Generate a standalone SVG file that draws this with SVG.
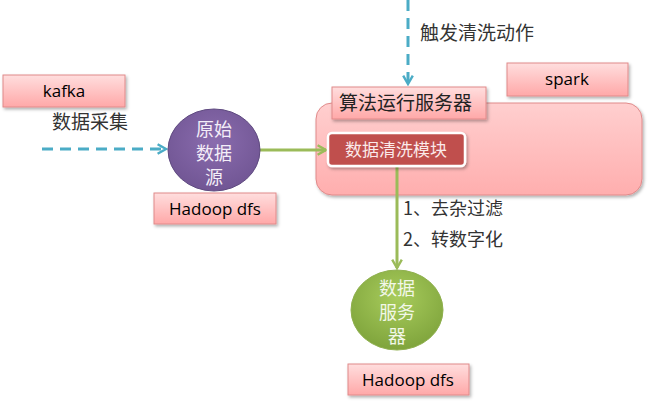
<svg xmlns="http://www.w3.org/2000/svg" width="658" height="401" viewBox="0 0 658 401">
<defs>
<linearGradient id="pink" x1="0" y1="0" x2="0" y2="1"><stop offset="0" stop-color="#ffdede"/><stop offset="1" stop-color="#ffa8a8"/></linearGradient>
<linearGradient id="bigpink" x1="0" y1="0" x2="0" y2="1"><stop offset="0" stop-color="#ffcfcf"/><stop offset="1" stop-color="#ffaeae"/></linearGradient>
<radialGradient id="green" cx="0.5" cy="0.35" r="0.65"><stop offset="0" stop-color="#a8cc5c"/><stop offset="1" stop-color="#7fa43c"/></radialGradient>
<radialGradient id="purple" cx="0.5" cy="0.4" r="0.65"><stop offset="0" stop-color="#8a6cae"/><stop offset="1" stop-color="#6f5492"/></radialGradient>
<filter id="sh" x="-10%" y="-10%" width="130%" height="140%"><feDropShadow dx="1.5" dy="2" stdDeviation="1.5" flood-color="#000" flood-opacity="0.3"/></filter>
<marker id="ab" viewBox="0 0 10 10" refX="8" refY="5" markerWidth="4" markerHeight="4" orient="auto" markerUnits="strokeWidth"><path d="M1,1 L8,5 L1,9" fill="none" stroke="#4bacc6" stroke-width="2"/></marker>
<marker id="ag" viewBox="0 0 10 10" refX="8" refY="5" markerWidth="4" markerHeight="4" orient="auto" markerUnits="strokeWidth"><path d="M1,1 L8,5 L1,9" fill="none" stroke="#9bbb59" stroke-width="2"/></marker>
</defs>
<style>
.box{fill:url(#pink);stroke:#e08a8a;stroke-width:1;filter:url(#sh)}
.lbl{font-family:"Open Sans","Liberation Sans",sans-serif;font-size:17px;fill:#000;text-anchor:middle}
.cn{font-family:"Noto Sans CJK SC",sans-serif;font-size:18px;fill:#333}
.wt{font-family:"Noto Sans CJK SC",sans-serif;font-size:18px;fill:#f4eef8;text-anchor:middle}
.blue{stroke:#4bacc6;stroke-width:3;fill:none;stroke-dasharray:11 7}
.grn{stroke:#9bbb59;stroke-width:3;fill:none}
</style>
<g id="spark-container">
<rect x="316" y="103" width="326" height="92" rx="16" fill="url(#bigpink)" stroke="#e08a8a" stroke-width="1" filter="url(#sh)"/>
</g>
<g id="connectors">
<path class="blue" d="M42,149 H166" marker-end="url(#ab)"/>
<path class="blue" d="M408,0 V84" marker-end="url(#ab)"/>
<path class="grn" d="M260,150 H326" marker-end="url(#ag)"/>
<path class="grn" d="M397,166 V268" marker-end="url(#ag)"/>
</g>
<g id="kafka"><rect class="box" x="3" y="75" width="122" height="32"/><text class="lbl" x="64" y="97">kafka</text></g>
<g id="label-collect"><text class="cn" x="52" y="129" style="font-size:19px">数据采集</text></g>
<g id="raw-source">
<ellipse cx="214" cy="150" rx="46" ry="41" fill="url(#purple)" stroke="#5f4a80" stroke-width="1"/>
<text class="wt" x="214" y="136">原始</text><text class="wt" x="214" y="160">数据</text><text class="wt" x="214" y="184">源</text>
</g>
<g id="hadoop1"><rect class="box" x="154" y="193" width="122" height="31"/><text class="lbl" x="215" y="215">Hadoop dfs</text></g>
<g id="trigger"><text class="cn" x="420" y="40" style="font-size:19px">触发清洗动作</text></g>
<g id="spark"><rect class="box" x="507" y="63" width="121" height="33"/><text class="lbl" x="567" y="85">spark</text></g>
<g id="algo-server"><rect class="box" x="332" y="87" width="154" height="32"/><text class="cn" x="339" y="110" style="font-size:19px;fill:#222">算法运行服务器</text></g>
<g id="clean-module"><rect x="328" y="133" width="137" height="33" rx="4" fill="#c0504d" stroke="#fff" stroke-width="2.5" filter="url(#sh)"/><text class="cn" x="396" y="156" style="fill:#fbeaea;text-anchor:middle;font-size:17px">数据清洗模块</text></g>
<g id="steps"><text class="cn" x="403" y="215">1、去杂过滤</text><text class="cn" x="403" y="246">2、转数字化</text></g>
<g id="data-server">
<ellipse cx="397" cy="310" rx="46" ry="40" fill="url(#green)" stroke="#8fb04e" stroke-width="1"/>
<text class="wt" x="397" y="295" style="fill:#f2f7e8">数据</text><text class="wt" x="397" y="319" style="fill:#f2f7e8">服务</text><text class="wt" x="397" y="343" style="fill:#f2f7e8">器</text>
</g>
<g id="hadoop2"><rect class="box" x="348" y="364" width="121" height="31"/><text class="lbl" x="408" y="386">Hadoop dfs</text></g>
</svg>
